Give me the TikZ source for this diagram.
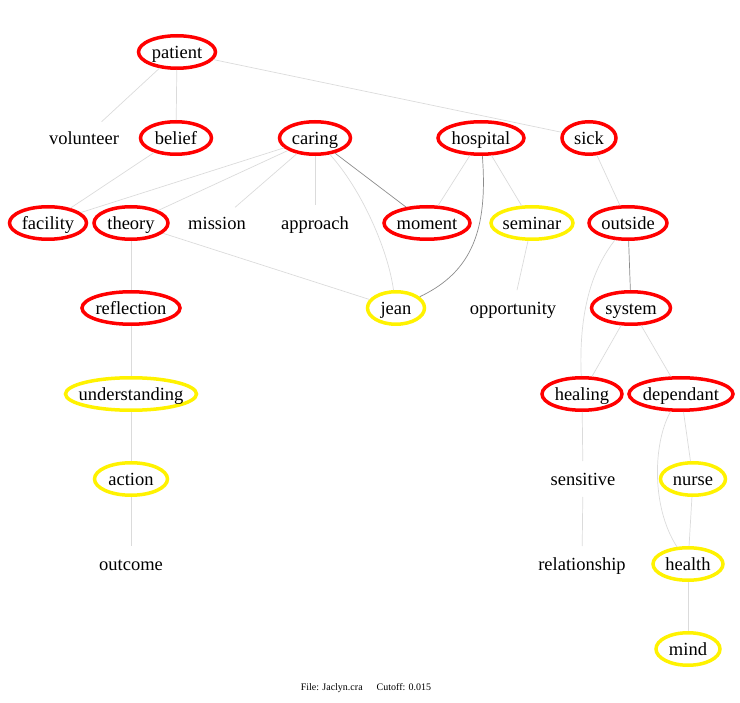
\documentclass[tikz,border=0pt]{standalone}
\usepackage{fontspec}
\setmainfont{Liberation Serif}
\usetikzlibrary{shapes.geometric}
\newcommand{\tlabel}[1]{\makebox[0pt]{#1}}
\begin{document}
\begin{tikzpicture}[x=1pt,y=-1pt,
  term/.style={ellipse,minimum height=32.5,inner sep=0pt,line width=3.5pt,
    text height=17pt,text depth=4pt,
    fill=white,font=\fontsize{18.5}{20}\selectfont},
  hot/.style={term,draw=red},
  warm/.style={term,draw=yellow},
  plain/.style={term,fill=none},
  link/.style={draw=black!14,line width=0.7pt},
  strong/.style={draw=black!45,line width=0.7pt}]
\useasboundingbox (0,0) rectangle (740,703);
% row 1
\node[hot,minimum width=77] (patient) at (177,52) {\tlabel{patient}};
% row 2
\node[plain,minimum width=80] (volunteer) at (84,138) {\tlabel{volunteer}};
\node[hot,minimum width=71] (belief) at (176,138) {\tlabel{belief}};
\node[hot,minimum width=71] (caring) at (315,138) {\tlabel{caring}};
\node[hot,minimum width=86] (hospital) at (481,138) {\tlabel{hospital}};
\node[hot,minimum width=54] (sick) at (589,138) {\tlabel{sick}};
% row 3
\node[hot,minimum width=77] (facility) at (48,223) {\tlabel{facility}};
\node[hot,minimum width=74] (theory) at (131,223) {\tlabel{theory}};
\node[plain,minimum width=70] (mission) at (217,223) {\tlabel{mission}};
\node[plain,minimum width=80] (approach) at (315,223) {\tlabel{approach}};
\node[hot,minimum width=86] (moment) at (427,223) {\tlabel{moment}};
\node[warm,minimum width=82] (seminar) at (532,223) {\tlabel{seminar}};
\node[hot,minimum width=78] (outside) at (628,223) {\tlabel{outside}};
% row 4
\node[hot,minimum width=98] (reflection) at (131,308) {\tlabel{reflection}};
\node[warm,minimum width=57] (jean) at (396,308) {\tlabel{jean}};
\node[plain,minimum width=90] (opportunity) at (513,308) {\tlabel{opportunity}};
\node[hot,minimum width=79] (system) at (631,308) {\tlabel{system}};
% row 5
\node[warm,minimum width=131] (understanding) at (131,394) {\tlabel{understanding}};
\node[hot,minimum width=80] (healing) at (582,394) {\tlabel{healing}};
\node[hot,minimum width=104] (dependant) at (681,394) {\tlabel{dependant}};
% row 6
\node[warm,minimum width=73] (action) at (131,479) {\tlabel{action}};
\node[plain,minimum width=80] (sensitive) at (583,479) {\tlabel{sensitive}};
\node[warm,minimum width=65] (nurse) at (693,479) {\tlabel{nurse}};
% row 7
\node[plain,minimum width=80] (outcome) at (131,564) {\tlabel{outcome}};
\node[plain,minimum width=96] (relationship) at (582,564) {\tlabel{relationship}};
\node[warm,minimum width=70] (health) at (688,564) {\tlabel{health}};
% row 8
\node[warm,minimum width=64] (mind) at (688,649) {\tlabel{mind}};
% links
\draw[link] (patient) -- (volunteer);
\draw[link] (patient) -- (belief);
\draw[link] (patient) -- (sick);
\draw[link] (belief) -- (facility);
\draw[link] (caring) -- (facility);
\draw[link] (caring) -- (theory);
\draw[link] (caring) -- (mission);
\draw[link] (caring) -- (approach);
\draw[strong] (caring) -- (moment);
\draw[link] (caring) .. controls (362,190) and (388,250) .. (jean);
\draw[link] (hospital) -- (moment);
\draw[link] (hospital) -- (seminar);
\draw[strong] (hospital) .. controls (488,230) and (472,272) .. (jean);
\draw[link] (theory) -- (jean);
\draw[link] (theory) -- (reflection);
\draw[link] (sick) -- (outside);
\draw[link] (seminar) -- (opportunity);
\draw[strong] (outside) -- (system);
\draw[link] (outside) .. controls (598,262) and (578,300) .. (healing);
\draw[link] (system) -- (healing);
\draw[link] (system) -- (dependant);
\draw[link] (reflection) -- (understanding);
\draw[link] (understanding) -- (action);
\draw[link] (action) -- (outcome);
\draw[link] (healing) -- (sensitive);
\draw[link] (sensitive) -- (relationship);
\draw[link] (dependant) -- (nurse);
\draw[link] (dependant) .. controls (654,440) and (650,505) .. (health);
\draw[link] (nurse) -- (health);
\draw[link] (health) -- (mind);
% footer
\node[font=\fontsize{10}{12}\selectfont] (footer) at (366,688) {File: Jaclyn.cra\hspace{14pt}Cutoff: 0.015};
\end{tikzpicture}
\end{document}
